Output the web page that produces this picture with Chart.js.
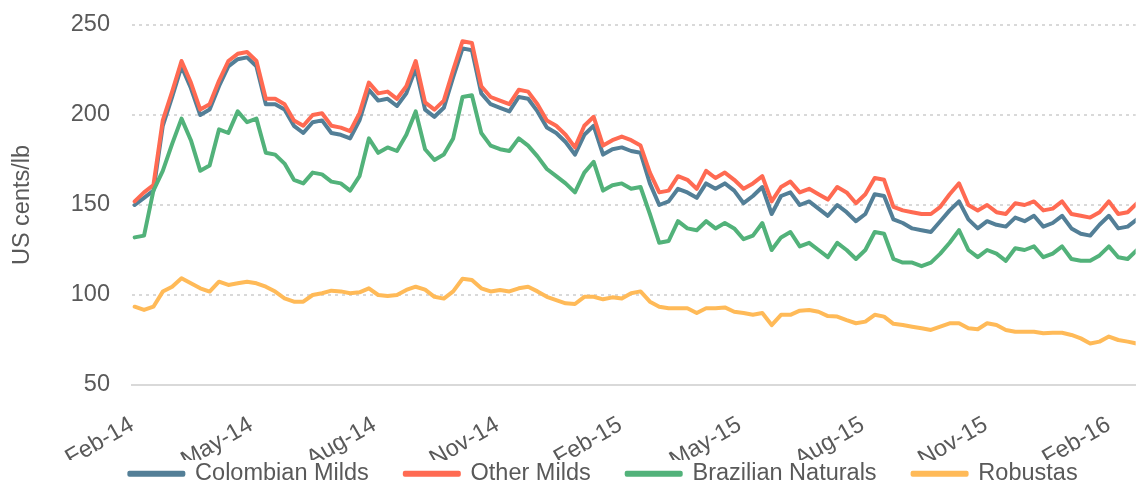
<!DOCTYPE html>
<html>
<head>
<meta charset="utf-8">
<script src="https://cdn.jsdelivr.net/npm/chart.js@4.4.0/dist/chart.umd.min.js"></script>
<style>
  html, body { margin: 0; padding: 0; background: #fff; }
  canvas { display: block; }
</style>
</head>
<body>
<canvas id="graficoCafe" width="1141" height="486"></canvas>
<script>
// weekly prices, US cents/lb (first week starts 2014-02-03)
const firstWeek = '2014-02-03';

const colombianMilds = [
  150,154,158,194,210,227,215,200,203,216,227,231,232,227,206,206,203,194,
  190,196,197,190,189,187,197,214,208,209,205,212,226,203,199,204,221,237,
  236,212,206,204,202,210,209,202,193,190,185,178,189,194,178,181,182,180,
  179,162,150,152,159,157,154,162,159,162,158,151,155,160,145,155,157,150,
  152,148,144,150,146,141,145,156,155,142,140,137,136,135,141,147,152,142,
  137,141,139,138,143,141,144,138,140,144,137,134,133,139,144,137,138,142
];
const otherMilds = [
  152,157,161,197,213,230,218,203,206,219,230,234,235,230,209,209,206,197,
  194,200,201,194,193,191,201,218,212,213,209,216,230,207,203,208,225,241,
  240,216,210,208,206,214,213,206,197,194,189,182,194,199,183,186,188,186,
  183,168,157,158,166,164,159,169,165,168,164,159,162,166,152,160,163,157,
  159,156,153,160,157,151,156,165,164,149,147,146,145,145,149,156,162,150,
  147,150,146,145,151,150,152,147,148,152,145,144,143,146,152,145,146,151
];
const brazilianNaturals = [
  132,133,158,169,184,198,186,169,172,192,190,202,196,198,179,178,173,164,
  162,168,167,163,162,158,166,187,179,182,180,189,202,181,175,178,187,210,
  211,190,183,181,180,187,183,177,170,166,162,157,168,174,158,161,162,159,
  160,145,129,130,141,137,136,141,137,140,137,131,133,140,125,132,135,127,
  129,125,121,129,125,120,125,135,134,120,118,118,116,118,123,129,136,125,
  121,125,123,119,126,125,127,121,123,127,120,119,119,122,127,121,120,125
];
const robustas = [
  93.5,91.7,93.5,101.9,104.6,109.3,106.5,103.7,101.9,107.4,105.6,106.5,107.4,106.5,104.6,101.9,98.1,96.3,
  96.3,100,101,102.4,102,101,101.5,103.7,100,99.5,100,102.8,104.6,103,99,98,102,109,
  108.3,103.7,102,102.8,102,103.7,104.6,102,99,97.2,95.4,95,99,99,97.6,98.7,98,101,
  102,96.3,93.5,92.6,92.6,92.6,90,92.6,92.6,93.1,90.7,90,89,90,83.3,89,89,91.3,
  91.7,90.7,88.3,88,86,84.3,85.2,89,88,84,83.3,82.4,81.5,80.6,82.4,84.3,84.3,81.5,
  81,84.3,83.3,80.6,79.6,79.6,79.6,78.7,79,79,77.8,75.9,73.1,74.1,76.9,75,74.1,73
];

const tickDates = ['2014-02-01','2014-05-01','2014-08-01','2014-11-01','2015-02-01','2015-05-01','2015-08-01','2015-11-01','2016-02-01'];
const tickLabels = ['Feb-14','May-14','Aug-14','Nov-14','Feb-15','May-15','Aug-15','Nov-15','Feb-16'];

const seriesNames = ['Colombian Milds','Other Milds','Brazilian Naturals','Robustas'];
const seriesColors = ['#537F97','#FF6A52','#52B27A','#FFBA58'];

// x axis in days counted from 1 Feb 2014
const diaMs = 86400000;
const inicio = Date.parse('2014-02-01');
const paraDia = (s) => (Date.parse(s) - inicio) / diaMs;
const primeiroDia = paraDia(firstWeek);
const tickDias = tickDates.map(paraDia);

const serie = (valores) => valores.map((v, i) => ({ x: primeiroDia + 7 * i, y: v }));

const cinza = '#595959';
Chart.defaults.font.family = '"Liberation Sans", Arial, sans-serif';
Chart.defaults.font.size = 23.5;
Chart.defaults.color = cinza;

// legend in the original sits a little to the right, and its row is drawn
// above the small box the layout leaves for it
const moverLegenda = {
  id: 'moverLegenda',
  afterLayout(chart) {
    chart.legend.left += 33;
    chart.legend.right += 33;
    chart.legend.top = chart.legend.bottom - 60;
  }
};

const todas = [colombianMilds, otherMilds, brazilianNaturals, robustas];

const graficoCafe = new Chart(document.getElementById('graficoCafe'), {
  type: 'line',
  data: {
    datasets: todas.map((valores, k) => ({
      label: seriesNames[k],
      data: serie(valores),
      borderColor: seriesColors[k],
      backgroundColor: seriesColors[k],
      borderWidth: 4,
      pointRadius: 0,
      tension: 0,
      borderJoinStyle: 'round',
      borderCapStyle: 'round',
      order: 4 - k
    }))
  },
  options: {
    responsive: false,
    animation: false,
    layout: { padding: { top: 25, right: 0, left: 0, bottom: 0 } },
    plugins: {
      tooltip: { enabled: false },
      legend: {
        position: 'bottom',
        maxHeight: 26,
        labels: {
          boxWidth: 54,
          boxHeight: 2,
          padding: 36,
          color: cinza,
          sort: (a, b) => a.datasetIndex - b.datasetIndex
        }
      }
    },
    scales: {
      x: {
        type: 'linear',
        min: 0,
        max: 750,
        grid: { display: false },
        border: { display: true, color: '#d9d9d9', width: 2 },
        afterBuildTicks: (scale) => { scale.ticks = tickDias.map(v => ({ value: v })); },
        afterFit: (scale) => { scale.height = 75; },
        ticks: {
          autoSkip: false,
          minRotation: 30,
          maxRotation: 30,
          padding: 18,
          color: cinza,
          callback: (value, index) => tickLabels[index]
        }
      },
      y: {
        min: 50,
        max: 250,
        grid: { color: '#d9d9d9', lineWidth: 2, drawTicks: false },
        border: { display: false, dash: [3, 4] },
        afterFit: (scale) => {
          scale.width = 132;
          scale.paddingTop = 0;
          scale.paddingBottom = 0;
        },
        ticks: { stepSize: 50, padding: 22, color: cinza },
        title: {
          display: true,
          text: 'US cents/lb',
          color: cinza,
          padding: { top: 8, bottom: 0 }
        }
      }
    }
  },
  plugins: [moverLegenda]
});
</script>
</body>
</html>
